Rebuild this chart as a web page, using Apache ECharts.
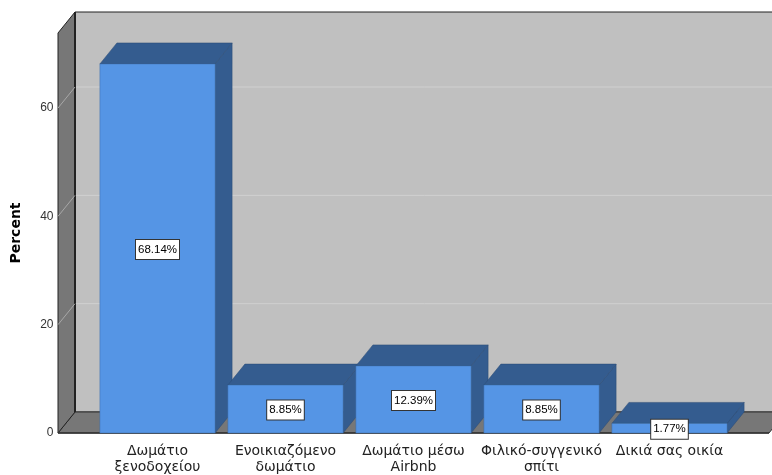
<!DOCTYPE html>
<html>
<head>
<meta charset="utf-8">
<script src="https://cdn.jsdelivr.net/npm/echarts@6/dist/echarts.min.js"></script>
<style>
  html, body { margin: 0; padding: 0; background: #fff; }
  #chart { width: 772px; height: 475px; }
</style>
</head>
<body>
<div id="chart"></div>
<script>
// categories and percentages
const categories = [
  'Δωμάτιο\nξενοδοχείου',
  'Ενοικιαζόμενο\nδωμάτιο',
  'Δωμάτιο μέσω\nAirbnb',
  'Φιλικό-συγγενικό\nσπίτι',
  'Δικιά σας οικία'
]
const percents = [68.14, 8.85, 12.39, 8.85, 1.77]
const yTicks = [0, 20, 40, 60]

// 3d look
const DX = 17
const DY = -21
const SIDE = 35.5
const FRONT = '#5595e5'
const DARK = '#345c8f'

const chart = echarts.init(document.getElementById('chart'))

// back wall, left wall, floor and grid lines
function renderWalls(params, api) {
  const cs = params.coordSys
  const fl = cs.x - SIDE
  const fr = cs.x + cs.width + SIDE
  const top = cs.y
  const bot = cs.y + cs.height
  const children = [
    { type: 'rect', shape: { x: fl + DX, y: top + DY, width: 800, height: cs.height },
      style: { fill: '#c0c0c0', stroke: '#222', lineWidth: 1 } },
    { type: 'polygon', shape: { points: [[fl, bot], [fr, bot], [fr + DX, bot + DY], [fl + DX, bot + DY]] },
      style: { fill: '#777777', stroke: '#333', lineWidth: 1 } },
    { type: 'polygon', shape: { points: [[fl, top], [fl + DX, top + DY], [fl + DX, bot + DY], [fl, bot]] },
      style: { fill: '#777777', stroke: '#222', lineWidth: 1 } },
    { type: 'line', shape: { x1: fl + DX, y1: top + DY, x2: fl + DX, y2: bot + DY },
      style: { stroke: '#222', lineWidth: 2 } }
  ]
  yTicks.slice(1).forEach(v => {
    const y = api.coord([0, v])[1]
    children.push({ type: 'line', shape: { x1: fl, y1: y, x2: fl + DX, y2: y + DY },
      style: { stroke: '#a8a8a8', lineWidth: 1 } })
    children.push({ type: 'line', shape: { x1: fl + DX + 1, y1: y + DY, x2: 800, y2: y + DY },
      style: { stroke: '#d0d0d0', lineWidth: 1 } })
  })
  children.push({ type: 'line', shape: { x1: fl, y1: bot, x2: fr, y2: bot },
    style: { stroke: '#333', lineWidth: 1.5 } })
  return { type: 'group', children }
}

function renderBar(params, api) {
  const i = api.value(0)
  const v = api.value(1)
  const base = api.coord([i, 0])
  const top = api.coord([i, v])
  const w = api.size([1, 0])[0] * 0.9
  const x0 = base[0] - w / 2
  const x1 = base[0] + w / 2
  const y0 = top[1]
  const y1 = base[1]
  return {
    type: 'group',
    children: [
      { type: 'polygon', shape: { points: [[x1, y0], [x1 + DX, y0 + DY], [x1 + DX, y1 + DY], [x1, y1]] },
        style: { fill: DARK, stroke: '#2a4a75', lineWidth: 0.5 } },
      { type: 'polygon', shape: { points: [[x0, y0], [x0 + DX, y0 + DY], [x1 + DX, y0 + DY], [x1, y0]] },
        style: { fill: DARK, stroke: '#2a4a75', lineWidth: 0.5 } },
      { type: 'rect', shape: { x: x0, y: y0, width: w, height: y1 - y0 },
        style: { fill: FRONT, stroke: '#3f6fa8', lineWidth: 0.5 } },
      { type: 'text', x: base[0], y: (y0 + y1) / 2 + 1,
        style: {
          text: v.toFixed(2) + '%', align: 'center', verticalAlign: 'middle',
          fill: '#000', font: '11.5px "Liberation Sans", Arial, sans-serif',
          backgroundColor: '#fff', borderColor: '#333', borderWidth: 1, padding: [4, 2, 3, 2]
        } }
    ]
  }
}

chart.setOption({
  animation: false,
  grid: { left: 93.5, right: 38.5, top: 33, bottom: 42 },
  xAxis: {
    type: 'category',
    data: categories,
    axisLine: { show: false },
    axisTick: { show: false },
    axisLabel: {
      interval: 0, margin: 10, color: '#222', fontSize: 14, lineHeight: 16,
      fontFamily: '"DejaVu Sans", sans-serif'
    }
  },
  yAxis: {
    type: 'value',
    min: 0,
    max: 73.85,
    interval: 20,
    name: 'Percent',
    nameLocation: 'middle',
    nameGap: 70,
    nameTextStyle: { fontSize: 14, fontWeight: 'bold', color: '#000', fontFamily: '"DejaVu Sans", sans-serif' },
    axisLine: { show: false },
    axisTick: { show: false },
    splitLine: { show: false },
    axisLabel: { margin: 40, color: '#333', fontSize: 12, fontFamily: '"Liberation Sans", Arial, sans-serif',
      showMaxLabel: false }
  },
  series: [
    { type: 'custom', z: 1, renderItem: renderWalls, data: [[0, 0]], silent: true },
    { type: 'custom', z: 2, renderItem: renderBar, data: percents.map((v, i) => [i, v]) }
  ]
})
</script>
</body>
</html>
